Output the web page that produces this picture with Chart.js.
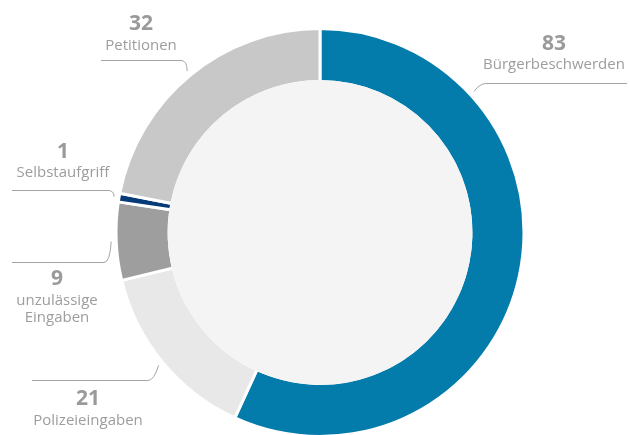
<!DOCTYPE html>
<html>
<head>
<meta charset="utf-8">
<script src="https://cdn.jsdelivr.net/npm/chart.js@4/dist/chart.umd.min.js"></script>
<style>
  html, body { margin: 0; padding: 0; background: #fff; overflow: hidden; }
  #wrap { position: absolute; left: 0; top: 0; width: 630px; height: 470px; }
</style>
</head>
<body>
<div id="wrap"><canvas id="chart" width="630" height="470"></canvas></div>
<script>
// Daten
const categories = ["Bürgerbeschwerden", "Polizeieingaben", "unzulässige Eingaben", "Selbstaufgriff", "Petitionen"];
const values = [83, 21, 9, 1, 32];
const colors = ["#037bab", "#e8e8e8", "#9d9e9d", "#063b78", "#c7c8c7"];

// Beschriftungen: Textzeilen und Lage der Führungslinien
const labelLines = [["Bürgerbeschwerden"], ["Polizeieingaben"], ["unzulässige", "Eingaben"], ["Selbstaufgriff"], ["Petitionen"]];
const labelLayout = [
  { x: 554, numY: 50, textY: 69, lineY: 83, lineFrom: 627, lineTo: 486, angle: 47.5 },
  { x: 88, numY: 405, textY: 425, lineY: 380, lineFrom: 32, lineTo: 148, angle: null },
  { x: 57, numY: 285, textY: 305, lineY: 262, lineFrom: 12, lineTo: 104, angle: null },
  { x: 63, numY: 158, textY: 177, lineY: 190, lineFrom: 12, lineTo: 108, angle: null },
  { x: 141, numY: 30, textY: 50, lineY: 60, lineFrom: 101, lineTo: 181, angle: null },
];

const centerFill = {
  id: "centerFill",
  afterDatasetsDraw(chart) {
    const arc = chart.getDatasetMeta(0).data[0];
    const ctx = chart.ctx;
    ctx.save();
    ctx.fillStyle = "#f4f4f4";
    ctx.beginPath();
    ctx.arc(arc.x, arc.y, arc.innerRadius + 1.5, 0, Math.PI * 2);
    ctx.fill();
    ctx.restore();
  },
};

const callouts = {
  id: "callouts",
  afterDraw(chart) {
    const ctx = chart.ctx;
    const arcs = chart.getDatasetMeta(0).data;
    ctx.save();
    arcs.forEach((arc, i) => {
      const l = labelLayout[i];
      const ang = l.angle === null ? (arc.startAngle + arc.endAngle) / 2 : (l.angle - 90) * Math.PI / 180;
      const r = arc.outerRadius + 5;
      const ex = arc.x + r * Math.cos(ang);
      const ey = arc.y + r * Math.sin(ang);
      const dir = l.lineTo > l.lineFrom ? 1 : -1;

      // Führungslinie
      ctx.strokeStyle = "#a5a5a5";
      ctx.lineWidth = 1;
      ctx.beginPath();
      ctx.moveTo(l.lineFrom, l.lineY + 0.5);
      ctx.lineTo(l.lineTo, l.lineY + 0.5);
      ctx.quadraticCurveTo(l.lineTo + dir * 6, l.lineY + 0.5, ex, ey);
      ctx.stroke();

      // Zahl und Text
      ctx.textAlign = "center";
      ctx.textBaseline = "alphabetic";
      ctx.fillStyle = "#9a9a9a";
      ctx.font = "bold 21px 'Open Sans'";
      ctx.fillText(String(values[i]), l.x, l.numY);
      ctx.font = "15px 'Open Sans'";
      ctx.fillStyle = "#9d9d9d";
      labelLines[i].forEach((t, k) => ctx.fillText(t, l.x, l.textY + k * 17));
    });
    ctx.restore();
  },
};

new Chart(document.getElementById("chart").getContext("2d"), {
  type: "doughnut",
  data: {
    labels: categories,
    datasets: [
      {
        data: values,
        backgroundColor: colors,
        borderColor: "#ffffff",
        borderWidth: 3,
        hoverOffset: 0,
      },
    ],
  },
  options: {
    responsive: false,
    animation: false,
    cutout: "74%",
    rotation: 0,
    layout: { padding: { top: 27, bottom: 32, left: 10, right: 0 } },
    plugins: {
      legend: { display: false },
      tooltip: { enabled: false },
    },
  },
  plugins: [centerFill, callouts],
});
</script>
</body>
</html>
